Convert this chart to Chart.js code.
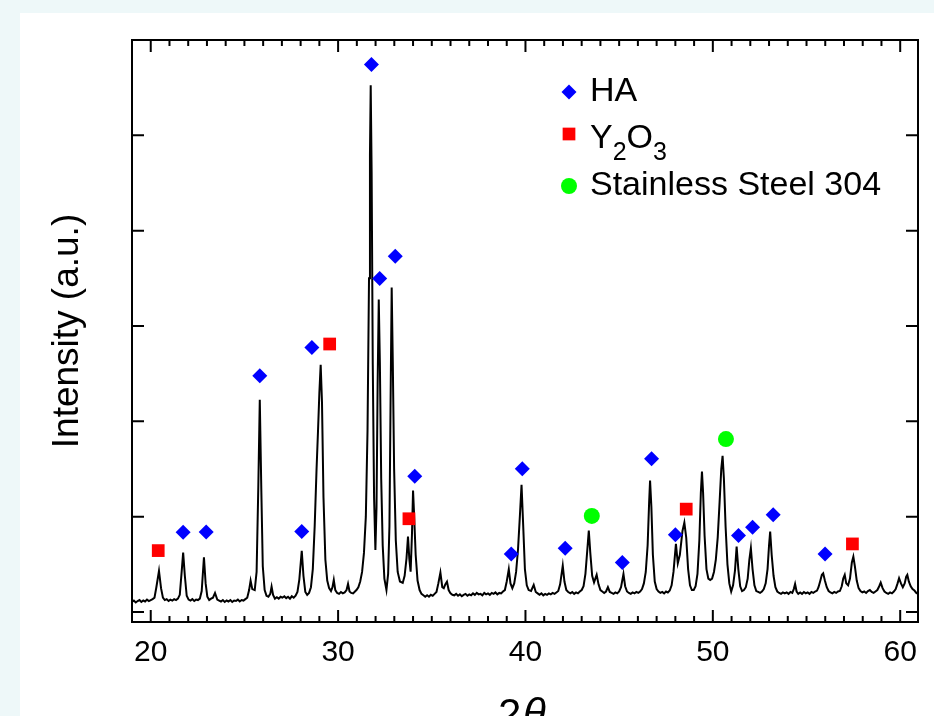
<!DOCTYPE html>
<html>
<head>
<meta charset="utf-8">
<title>XRD pattern</title>
<script src="https://cdn.jsdelivr.net/npm/chart.js@4.4.1/dist/chart.umd.min.js"></script>
<style>
  html, body { margin: 0; padding: 0; width: 934px; height: 716px; overflow: hidden; background: #eef8f9; }
  #sheet { position: absolute; left: 20px; top: 13px; width: 914px; height: 703px; background: #fff; }
  #xrd { position: absolute; left: 0; top: 0; }
</style>
</head>
<body>
<div id="sheet"></div>
<canvas id="xrd" width="934" height="716"></canvas>
<script>
// diffraction pattern (2-theta in degrees, intensity in arbitrary units)
const twoTheta = [
  19.00, 19.10, 19.20, 19.30, 19.40, 19.50, 19.60, 19.70, 19.80, 19.90,
  20.00, 20.10, 20.20, 20.30, 20.44, 20.55, 20.65, 20.75, 20.85, 20.95,
  21.05, 21.15, 21.25, 21.35, 21.45, 21.55, 21.65, 21.73, 21.82, 21.92,
  22.02, 22.12, 22.22, 22.32, 22.42, 22.52, 22.62, 22.72, 22.84, 22.93,
  23.02, 23.12, 23.22, 23.32, 23.43, 23.55, 23.65, 23.75, 23.85, 23.95,
  24.05, 24.15, 24.25, 24.35, 24.45, 24.55, 24.65, 24.75, 24.85, 24.95,
  25.05, 25.15, 25.25, 25.33, 25.42, 25.55, 25.65, 25.74, 25.82, 25.90,
  25.98, 26.08, 26.18, 26.28, 26.38, 26.45, 26.53, 26.63, 26.73, 26.83,
  26.93, 27.03, 27.13, 27.23, 27.33, 27.43, 27.53, 27.63, 27.73, 27.83,
  27.93, 28.06, 28.15, 28.25, 28.35, 28.45, 28.55, 28.65, 28.75, 28.85,
  28.93, 29.00, 29.07, 29.14, 29.22, 29.32, 29.42, 29.52, 29.62, 29.70,
  29.77, 29.85, 29.95, 30.05, 30.15, 30.25, 30.35, 30.45, 30.53, 30.61,
  30.70, 30.80, 30.90, 30.98, 31.08, 31.18, 31.28, 31.38, 31.48, 31.57,
  31.65, 31.70, 31.74, 31.79, 31.85, 31.92, 31.99, 32.05, 32.11, 32.17,
  32.23, 32.30, 32.38, 32.47, 32.58, 32.67, 32.74, 32.80, 32.86, 32.92,
  32.99, 33.08, 33.18, 33.30, 33.45, 33.55, 33.65, 33.73, 33.80, 33.87,
  33.94, 34.00, 34.06, 34.14, 34.24, 34.35, 34.45, 34.55, 34.65, 34.75,
  34.85, 34.95, 35.05, 35.15, 35.25, 35.35, 35.46, 35.56, 35.64, 35.72,
  35.81, 35.90, 36.00, 36.10, 36.20, 36.30, 36.40, 36.50, 36.60, 36.70,
  36.80, 36.90, 37.00, 37.10, 37.20, 37.30, 37.40, 37.50, 37.60, 37.70,
  37.80, 37.90, 38.00, 38.10, 38.20, 38.30, 38.40, 38.50, 38.60, 38.70,
  38.80, 38.90, 39.00, 39.11, 39.20, 39.30, 39.40, 39.50, 39.60, 39.70,
  39.79, 39.88, 39.97, 40.07, 40.17, 40.30, 40.44, 40.55, 40.65, 40.75,
  40.85, 40.95, 41.05, 41.15, 41.25, 41.35, 41.45, 41.55, 41.65, 41.75,
  41.85, 41.99, 42.08, 42.18, 42.28, 42.40, 42.50, 42.60, 42.70, 42.80,
  42.90, 43.00, 43.10, 43.20, 43.30, 43.38, 43.46, 43.56, 43.66, 43.80,
  43.90, 44.00, 44.10, 44.20, 44.30, 44.40, 44.50, 44.60, 44.70, 44.80,
  44.90, 45.00, 45.10, 45.23, 45.32, 45.42, 45.52, 45.62, 45.72, 45.82,
  45.92, 46.02, 46.12, 46.22, 46.32, 46.42, 46.52, 46.60, 46.65, 46.72,
  46.80, 46.90, 47.00, 47.10, 47.20, 47.30, 47.40, 47.50, 47.60, 47.70,
  47.80, 47.90, 48.03, 48.13, 48.24, 48.38, 48.48, 48.58, 48.68, 48.78,
  48.88, 48.98, 49.08, 49.18, 49.28, 49.36, 49.42, 49.48, 49.56, 49.66,
  49.76, 49.86, 49.96, 50.06, 50.16, 50.26, 50.36, 50.45, 50.52, 50.59,
  50.68, 50.78, 50.88, 50.98, 51.08, 51.18, 51.27, 51.36, 51.46, 51.56,
  51.66, 51.76, 51.86, 51.95, 52.03, 52.12, 52.22, 52.32, 52.42, 52.52,
  52.62, 52.72, 52.82, 52.92, 53.00, 53.06, 53.14, 53.24, 53.34, 53.44,
  53.54, 53.64, 53.74, 53.84, 53.94, 54.04, 54.14, 54.24, 54.32, 54.39,
  54.47, 54.56, 54.66, 54.76, 54.86, 54.96, 55.06, 55.16, 55.26, 55.36,
  55.46, 55.56, 55.64, 55.74, 55.82, 55.89, 55.98, 56.08, 56.18, 56.28,
  56.38, 56.48, 56.58, 56.68, 56.78, 56.88, 56.96, 57.04, 57.12, 57.22,
  57.32, 57.42, 57.50, 57.58, 57.68, 57.78, 57.88, 57.98, 58.08, 58.18,
  58.28, 58.38, 58.48, 58.58, 58.68, 58.78, 58.88, 58.96, 59.06, 59.16,
  59.26, 59.36, 59.46, 59.56, 59.66, 59.76, 59.86, 59.94, 60.04, 60.14,
  60.24, 60.32, 60.38, 60.46, 60.56, 60.66, 60.76, 60.86, 60.95
];
const intensity = [
  105, 120, 100, 115, 125, 105, 120, 110, 130, 115,
  125, 135, 150, 260, 431, 250, 150, 125, 135, 115,
  130, 120, 135, 125, 140, 180, 420, 623, 380, 170,
  130, 120, 135, 115, 130, 125, 140, 220, 574, 300,
  160, 125, 140, 150, 200, 130, 120, 110, 125, 105,
  120, 110, 125, 105, 120, 115, 130, 110, 125, 120,
  135, 150, 230, 329, 240, 230, 420, 1300, 2227, 1300,
  480, 230, 170, 160, 190, 266, 180, 140, 155, 140,
  160, 150, 165, 145, 160, 140, 165, 150, 170, 210,
  340, 641, 380, 210, 180, 200, 260, 450, 900, 1500,
  1912, 2300, 2594, 2200, 1200, 550, 330, 250, 220, 260,
  336, 230, 200, 190, 210, 195, 205, 230, 294, 215,
  200, 195, 215, 230, 260, 320, 420, 620, 1000, 1900,
  3500, 4800, 5525, 4600, 2600, 1200, 651, 1100, 2400, 3277,
  2600, 1400, 700, 350, 231, 400, 900, 2200, 3403, 2600,
  1500, 750, 420, 320, 305, 380, 560, 791, 560, 423,
  800, 1275, 1000, 600, 330, 230, 190, 175, 160, 175,
  160, 180, 170, 190, 210, 300, 413, 260, 250, 290,
  318, 230, 195, 180, 175, 190, 170, 185, 165, 180,
  190, 170, 185, 175, 195, 180, 200, 185, 190, 175,
  200, 185, 195, 180, 200, 190, 205, 185, 200, 195,
  215, 230, 320, 448, 300, 250, 300, 420, 650, 1000,
  1334, 900, 450, 280, 230, 220, 284, 210, 195, 180,
  195, 175, 190, 180, 195, 185, 200, 190, 205, 220,
  290, 486, 320, 230, 210, 195, 210, 190, 205, 195,
  215, 230, 270, 400, 650, 854, 620, 380, 310, 389,
  290, 230, 215, 200, 215, 260, 210, 200, 190, 205,
  195, 215, 260, 399, 270, 215, 200, 190, 205, 195,
  210, 200, 215, 240, 300, 420, 700, 1150, 1379, 1100,
  600, 320, 240, 215, 200, 210, 195, 215, 205, 225,
  280, 420, 714, 511, 600, 850, 938, 780, 450, 280,
  230, 230, 270, 400, 750, 1250, 1474, 1250, 800, 450,
  350, 336, 350, 420, 550, 780, 1150, 1500, 1639, 1400,
  900, 500, 300, 215, 280, 430, 686, 450, 270, 220,
  230, 260, 350, 550, 669, 450, 280, 220, 210, 200,
  215, 240, 300, 450, 700, 843, 600, 380, 260, 215,
  200, 190, 205, 195, 205, 190, 210, 200, 240, 294,
  215, 190, 205, 190, 210, 195, 205, 190, 210, 200,
  215, 225, 260, 330, 390, 406, 330, 260, 220, 205,
  195, 210, 200, 215, 220, 270, 350, 389, 300, 280,
  350, 520, 581, 480, 330, 250, 220, 205, 215, 200,
  220, 230, 210, 200, 215, 230, 270, 308, 250, 215,
  200, 190, 205, 195, 215, 240, 300, 354, 300, 260,
  300, 370, 389, 320, 270, 240, 225, 200, 190
];

// phase markers
const haTheta = [21.73, 22.96, 25.82, 28.06, 28.60, 31.78, 32.22, 33.05, 34.09, 39.24, 39.83, 42.12, 45.17, 46.73, 48.00, 51.37, 52.12, 53.22, 55.99];
const haLevel = [837, 840, 2479, 844, 2775, 5744, 3499, 3732, 1425, 609, 1502, 669, 518, 1607, 809, 802, 890, 1019, 609];
const y2o3Theta = [20.40, 29.55, 33.78, 48.58, 57.45];
const y2o3Level = [644, 2811, 978, 1079, 714];
const steelTheta = [43.54, 50.70];
const steelLevel = [1008, 1814];

const xTickLabels = [20, 30, 40, 50, 60];
const yTickValues = [0, 1000, 2000, 3000, 4000, 5000];

const FONT = "'Liberation Sans', Arial, Helvetica, sans-serif";

const toPoints = (xs, ys) => xs.map((v, i) => ({ x: v, y: ys[i] }));

// frame with inward ticks on all four sides, the in-plot legend and the cut-off x title
const framePlugin = {
  id: 'frame',
  afterDraw(chart) {
    const { ctx, chartArea: a, scales: { x, y } } = chart;
    ctx.save();
    ctx.strokeStyle = '#000';
    ctx.lineWidth = 2;
    ctx.beginPath();
    for (let v = Math.ceil(x.min); v <= x.max; v++) {
      const px = x.getPixelForValue(v);
      const len = xTickLabels.includes(v) ? 12 : 6;
      ctx.moveTo(px, a.bottom); ctx.lineTo(px, a.bottom - len);
      ctx.moveTo(px, a.top); ctx.lineTo(px, a.top + len);
    }
    yTickValues.forEach(v => {
      const py = y.getPixelForValue(v);
      ctx.moveTo(a.left, py); ctx.lineTo(a.left + 12, py);
      ctx.moveTo(a.right, py); ctx.lineTo(a.right - 12, py);
    });
    ctx.stroke();
    ctx.strokeRect(a.left, a.top, a.right - a.left, a.bottom - a.top);

    // legend
    const rows = [{ sy: 92, ty: 101 }, { sy: 134, ty: 148 }, { sy: 186, ty: 195 }];
    chart.data.datasets.filter(ds => ds.markers).forEach((ds, i) => {
      ctx.fillStyle = ds.backgroundColor;
      Chart.helpers.drawPoint(ctx, { pointStyle: ds.pointStyle, radius: ds.pointRadius, rotation: 0, borderWidth: 0 }, 569, rows[i].sy);
      ctx.fillStyle = '#000';
      ctx.textBaseline = 'alphabetic';
      ctx.textAlign = 'left';
      let tx = 590;
      for (const ch of ds.label) {
        const sub = ds.formula && /\d/.test(ch);
        ctx.font = sub ? `25px ${FONT}` : `34px ${FONT}`;
        ctx.fillText(ch, tx, rows[i].ty + (sub ? 12 : 0));
        tx += ctx.measureText(ch).width;
      }
    });

    // x axis title: 2θ, mostly below the bottom edge of the picture
    const cx = (a.left + a.right) / 2;
    ctx.fillStyle = '#000';
    ctx.font = `42px ${FONT}`;
    ctx.fillText('2', cx - 27, a.bottom + 106);
    ctx.font = `italic 42px ${FONT}`;
    ctx.fillText('\u03B8', cx - 2, a.bottom + 106);
    ctx.restore();
  }
};

new Chart(document.getElementById('xrd'), {
  type: 'line',
  data: {
    datasets: [
      {
        type: 'scatter', label: 'HA', markers: true,
        data: toPoints(haTheta, haLevel),
        pointStyle: 'rectRot', pointRadius: 7.5, pointBorderWidth: 0,
        backgroundColor: '#0000ff', borderColor: '#0000ff'
      },
      {
        type: 'scatter', label: 'Y2O3', markers: true, formula: true,
        data: toPoints(y2o3Theta, y2o3Level),
        pointStyle: 'rect', pointRadius: 9, pointBorderWidth: 0,
        backgroundColor: '#ff0000', borderColor: '#ff0000'
      },
      {
        type: 'scatter', label: 'Stainless Steel 304', markers: true,
        data: toPoints(steelTheta, steelLevel),
        pointStyle: 'circle', pointRadius: 8, pointBorderWidth: 0,
        backgroundColor: '#00ff00', borderColor: '#00ff00'
      },
      {
        label: 'pattern', order: 1,
        data: toPoints(twoTheta, intensity),
        borderColor: '#000', borderWidth: 2,
        pointRadius: 0, tension: 0, fill: false
      }
    ]
  },
  options: {
    responsive: false,
    animation: false,
    layout: { padding: { top: 40, right: 16, left: 0, bottom: 0 } },
    plugins: { legend: { display: false }, tooltip: { enabled: false } },
    scales: {
      x: {
        type: 'linear', min: 19, max: 60.95,
        grid: { display: false, drawTicks: false },
        border: { display: false },
        afterBuildTicks: s => { s.ticks = xTickLabels.map(v => ({ value: v })); },
        afterFit: s => { s.height = 94; },
        ticks: { color: '#000', font: { family: FONT, size: 30 }, padding: 13, autoSkip: false, maxRotation: 0 }
      },
      y: {
        min: -105, max: 6000,
        grid: { display: false, drawTicks: false },
        border: { display: false },
        ticks: { display: false },
        afterFit: s => { s.width = 132; },
        title: {
          display: true, text: 'Intensity (a.u.)', color: '#000',
          font: { family: FONT, size: 37 }, padding: { top: 46, bottom: 0 }
        }
      }
    }
  },
  plugins: [framePlugin]
});
</script>
</body>
</html>
